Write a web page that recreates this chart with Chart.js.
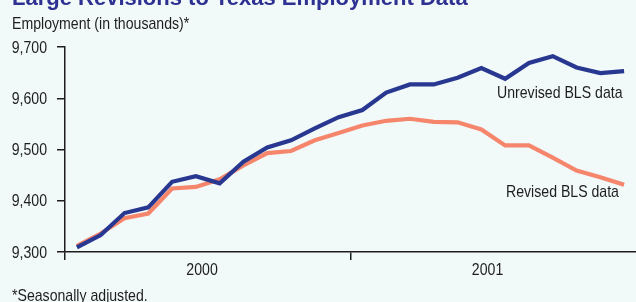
<!DOCTYPE html>
<html>
<head>
<meta charset="utf-8">
<script src="https://cdn.jsdelivr.net/npm/chart.js@4"></script>
<style>
  html, body { margin: 0; padding: 0; background: #f2f9f9; }
  #wrap { position: relative; width: 636px; height: 302px; }
</style>
</head>
<body>
<div id="wrap"><canvas id="chart" width="636" height="302"></canvas></div>
<script>
// Monthly, Jan 2000 - Dec 2001
const months = [
  "Jan 2000", "Feb 2000", "Mar 2000", "Apr 2000", "May 2000", "Jun 2000",
  "Jul 2000", "Aug 2000", "Sep 2000", "Oct 2000", "Nov 2000", "Dec 2000",
  "Jan 2001", "Feb 2001", "Mar 2001", "Apr 2001", "May 2001", "Jun 2001",
  "Jul 2001", "Aug 2001", "Sep 2001", "Oct 2001", "Nov 2001", "Dec 2001"
];
const unrevised = [
  9309, 9333, 9376, 9387, 9437, 9448, 9434, 9476, 9504, 9518, 9541, 9563,
  9577, 9611, 9627, 9627, 9640, 9659, 9638, 9669, 9682, 9660, 9649, 9653
];
const revised = [
  9312, 9336, 9366, 9375, 9424, 9427, 9442, 9469, 9493, 9497, 9518, 9532,
  9547, 9556, 9560, 9554, 9553, 9539, 9508, 9508, 9484, 9459, 9446, 9431
];
const yearLabels = ["2000", "2001"];
const yTicks = [9300, 9400, 9500, 9600, 9700];

const FONT = "17px 'Liberation Sans', Arial, sans-serif";
const SQUEEZE = 0.83; // the original uses a condensed face
const INK = "#1e1e1e";
const NAVY = "#283891";
const SALMON = "#f5866c";

// condensed text: squeeze horizontally around the anchor point
function narrowText(ctx, str, x, y, align) {
  ctx.save();
  ctx.translate(x, y);
  ctx.scale(SQUEEZE, 1);
  ctx.textAlign = align || "left";
  ctx.fillText(str, 0, 0);
  ctx.restore();
}

// title, notes, series labels, y tick labels and year captions
const textPlugin = {
  id: "texts",
  afterDraw(chart) {
    const ctx = chart.ctx;
    const x = chart.scales.x;
    const y = chart.scales.y;
    ctx.save();
    ctx.textBaseline = "alphabetic";

    ctx.fillStyle = "#2e3192";
    ctx.font = "bold 22px 'Liberation Sans', Arial, sans-serif";
    ctx.textAlign = "left";
    ctx.fillText("Large Revisions to Texas Employment Data", 12, 5);

    ctx.fillStyle = INK;
    ctx.font = FONT;
    narrowText(ctx, "Employment (in thousands)*", 12, 29);
    narrowText(ctx, "*Seasonally adjusted.", 12, 301);

    narrowText(ctx, "Unrevised BLS data", 497, 98);
    narrowText(ctx, "Revised BLS data", 506, 197);

    ctx.textBaseline = "middle";
    yTicks.forEach(v => {
      narrowText(ctx, v.toLocaleString("en-US"), 47, y.getPixelForValue(v) + 1, "right");
    });

    ctx.textBaseline = "alphabetic";
    yearLabels.forEach((lab, k) => {
      const i = 5 + k * 12;
      const p = x.getPixelForValue(i) + 0.26 * (x.getPixelForValue(i + 1) - x.getPixelForValue(i));
      narrowText(ctx, lab, p, 275, "center");
    });
    ctx.restore();
  }
};

new Chart(document.getElementById("chart"), {
  type: "line",
  data: {
    labels: months,
    datasets: [
      {
        label: "Unrevised BLS data",
        data: unrevised,
        borderColor: NAVY,
        borderWidth: 4.2,
        pointRadius: 0,
        tension: 0,
        borderJoinStyle: "miter"
      },
      {
        label: "Revised BLS data",
        data: revised,
        borderColor: SALMON,
        borderWidth: 4.2,
        pointRadius: 0,
        tension: 0,
        borderJoinStyle: "miter"
      }
    ]
  },
  options: {
    responsive: false,
    animation: false,
    layout: { padding: { top: 47, left: 0, right: 0, bottom: 0 } },
    plugins: {
      legend: { display: false },
      tooltip: { enabled: false },
      title: { display: false }
    },
    scales: {
      x: {
        type: "category",
        offset: true,
        afterFit: s => { s.height = 50; },
        grid: {
          offset: true,
          drawOnChartArea: false,
          tickLength: 8,
          lineWidth: 1.5,
          color: c => (c.index === 0 || c.index === 12) ? INK : "rgba(0,0,0,0)"
        },
        border: { color: INK, width: 1.5 },
        ticks: { display: false }
      },
      y: {
        min: 9300,
        max: 9700,
        afterFit: s => { s.width = 65; },
        afterBuildTicks: s => { s.ticks = yTicks.map(v => ({ value: v })); },
        grid: { drawOnChartArea: false, tickLength: 8, lineWidth: 1.5, color: INK },
        border: { color: INK, width: 1.5 },
        ticks: { display: false }
      }
    }
  },
  plugins: [textPlugin]
});
</script>
</body>
</html>
